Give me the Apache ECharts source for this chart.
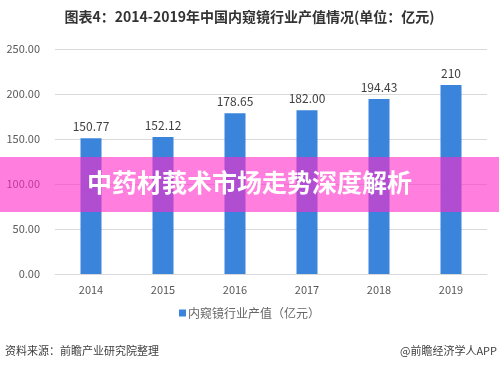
<!DOCTYPE html>
<html>
<head>
<meta charset="utf-8">
<script src="https://cdn.jsdelivr.net/npm/echarts@6/dist/echarts.min.js"></script>
<style>html,body{margin:0;padding:0;background:#fff;}#c{width:499px;height:369px;}</style>
</head>
<body>
<div id="c"></div>
<script>
var categories = ['2014', '2015', '2016', '2017', '2018', '2019'];
var values = [150.77, 152.12, 178.65, 182.00, 194.43, 210];
var valueLabels = ['150.77', '152.12', '178.65', '182.00', '194.43', '210'];
var seriesName = '内窥镜行业产值（亿元）';
var FONT = '"Noto Sans CJK SC", "Noto Sans", sans-serif';

var chart = echarts.init(document.getElementById('c'), null, {renderer: 'canvas'});
chart.setOption({
  backgroundColor: '#ffffff',
  animation: false,
  textStyle: {fontFamily: FONT},
  title: {
    text: '图表4：2014-2019年中国内窥镜行业产值情况(单位：亿元)',
    left: 'center', top: 5,
    textStyle: {fontSize: 14, fontWeight: 'bold', color: '#333333', fontFamily: FONT}
  },
  grid: {left: 55, right: 12, top: 49, bottom: 95},
  legend: {
    data: [seriesName], bottom: 45, left: 'center',
    icon: 'rect', itemWidth: 7, itemHeight: 7, itemGap: 2,
    textStyle: {fontSize: 12, color: '#666666', fontFamily: FONT, padding: [0,0,0,-3]}
  },
  xAxis: {
    type: 'category', data: categories,
    axisLine: {lineStyle: {color: '#d9d9d9'}},
    axisTick: {show: false},
    axisLabel: {color: '#595959', fontSize: 11, margin: 10}
  },
  yAxis: {
    type: 'value', min: 0, max: 250, interval: 50,
    axisLine: {show: false}, axisTick: {show: false},
    splitLine: {lineStyle: {color: '#d9d9d9'}},
    axisLabel: {color: '#595959', fontSize: 11, margin: 15, formatter: function(v){return v.toFixed(2);}}
  },
  series: [{
    name: seriesName, type: 'bar', data: values, barWidth: 21,
    itemStyle: {color: '#3a84dc'},
    label: {show: true, position: 'top', distance: 6, color: '#404040', fontSize: 12,
      formatter: function(p){return valueLabels[p.dataIndex];}}
  }],
  graphic: [
    {type: 'rect', left: 0, top: 157, z: 100, shape: {width: 499, height: 55},
     style: {fill: 'rgba(255,40,200,0.6)'}},
    {type: 'text', left: 'center', top: 170, z: 101,
     style: {text: '中药材莪术市场走势深度解析', fill: '#ffffff', font: 'bold 25px ' + FONT}},
    {type: 'text', left: 5, top: 345, style: {text: '资料来源：前瞻产业研究院整理', fill: '#404040', font: '11px ' + FONT}},
    {type: 'text', right: 2, top: 345, style: {text: '@前瞻经济学人APP', fill: '#404040', font: '11px ' + FONT}}
  ]
});
</script>
</body>
</html>
